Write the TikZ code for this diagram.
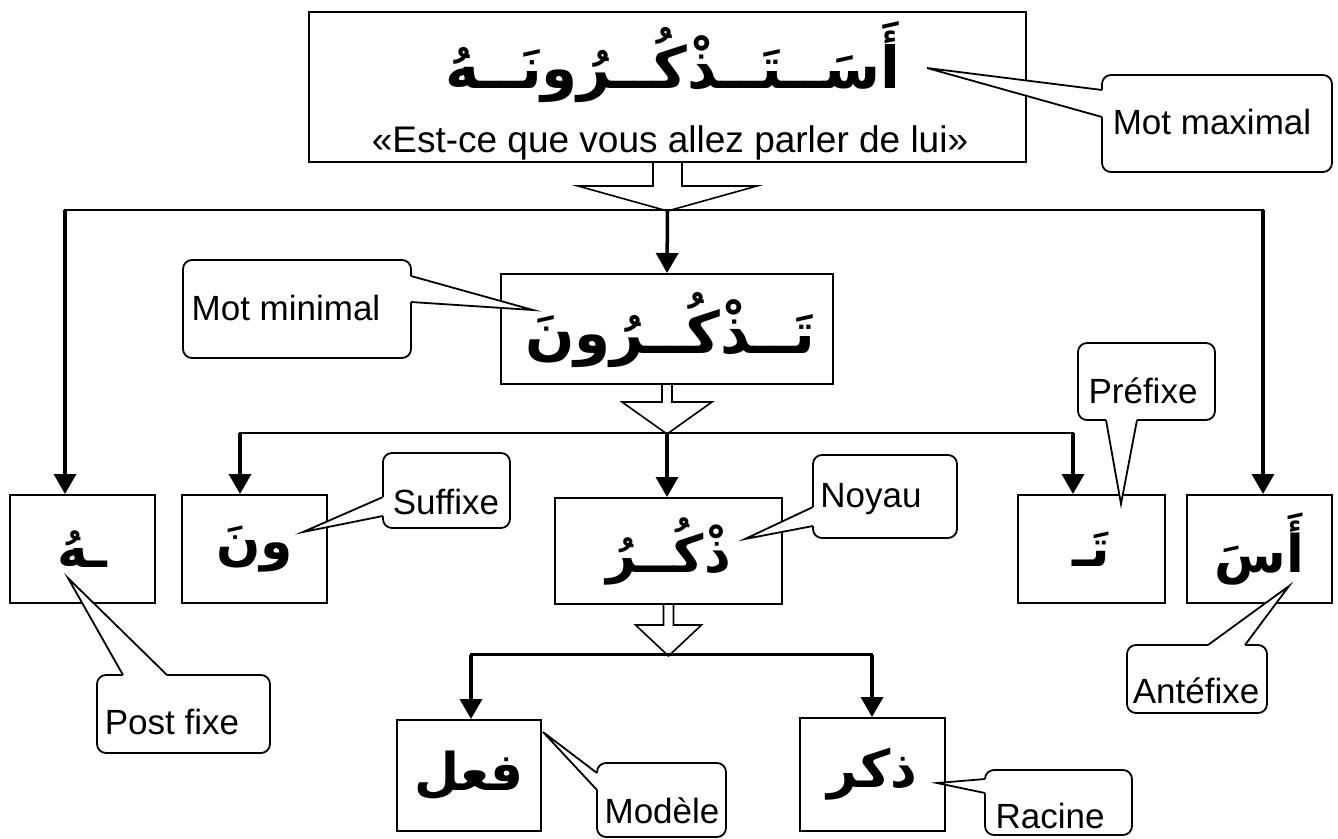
\documentclass[tikz,border=0pt]{standalone}
\usepackage{fontspec}
\setmainfont{Liberation Sans}
\newfontfamily\arabicfont[Script=Arabic]{DejaVu Sans}
\usetikzlibrary{arrows.meta,calc}
\TeXXeTstate=1
\newcommand\hollowarr[5]{%
  \draw[hollow] ($(#1)+(-#2,0)$) -- ($(#1)+(-#2,#4)$) -- ($(#1)+(-#3,#4)$) -- ($(#1)+(0,#4+#5)$)
     -- ($(#1)+(#3,#4)$) -- ($(#1)+(#2,#4)$) -- ($(#1)+(#2,0)$);}
\newcommand\calloutptr[4]{%
  \fill[white] #1 -- (#3) -- #2 -- ($#2+#4$) -- ($#1+#4$) -- cycle;
  \draw[ptr] #1 -- (#3) -- #2;}
\begin{document}
\begin{tikzpicture}[x=1pt,y=-1pt,
  box/.style={draw, line width=2pt, inner sep=0pt, fill=white},
  arr/.style={line width=3.5pt, -{Triangle[width=22pt,length=20pt]}},
  bus/.style={line width=2.5pt, line cap=rect},
  hollow/.style={draw, line width=1.6pt, fill=white, line join=miter},
  callout/.style={draw, line width=1.8pt, fill=white, rounded corners=9pt},
  ptr/.style={line width=1.8pt, line join=miter},
  ctext/.style={font=\fontsize{35}{40}\selectfont, inner sep=0pt},
  ar/.style={font=\arabicfont\bfseries\fontsize{58}{66}\selectfont, inner sep=0pt},
  ars/.style={font=\arabicfont\bfseries\fontsize{52}{60}\selectfont, inner sep=0pt},
]
\useasboundingbox (0,0) rectangle (1338,838);
\fill[white] (0,0) rectangle (1338,838);

% ---------- boxes ----------
\node[box, minimum width=717pt, minimum height=150pt] (top) at (667.5,87) {};
\node[ar] (topar) at (673,62) {\beginR أَسَــتَــذْكُــرُونَــهُ\endR};
\node[inner sep=0pt, anchor=base, font=\fontsize{37}{42}\selectfont] (topfr) at (670,152) {«Est-ce que vous allez parler de lui»};

\node[box, minimum width=332pt, minimum height=110pt] (mm) at (667,329) {};
\node[ar] (mmar) at (670,330) {\beginR تَــذْكُــرُونَ\endR};

\node[box, minimum width=145pt, minimum height=108pt, ars] (bh)  at (82.5,549)  {\beginR ـهُ\endR};
\node[box, minimum width=145pt, minimum height=108pt, ars] (bwn) at (254.5,549) {\beginR ونَ\endR};
\node[box, minimum width=227pt, minimum height=106pt, ars] (bn)  at (668.5,551) {\beginR ذْكُــرُ\endR};
\node[box, minimum width=147pt, minimum height=108pt, ars] (bt)  at (1091.5,549) {\beginR تَـ\endR};
\node[box, minimum width=145pt, minimum height=108pt, ars] (bas) at (1259.5,549) {\beginR أَسَ\endR};
\node[box, minimum width=144pt, minimum height=111pt, ars] (bf)  at (469,775.5) {\beginR فعل\endR};
\node[box, minimum width=145pt, minimum height=113pt, ars] (bdk) at (872.5,774.5) {\beginR ذكر\endR};

% ---------- hollow arrows ----------
\hollowarr{top.south}{14.5}{89.5}{23}{25}
\hollowarr{mm.south}{5}{45}{17}{32}
\hollowarr{bn.south}{5}{33}{20}{31}

% ---------- distribution lines ----------
\coordinate (jL) at (65,210);
\coordinate (jR) at (1263,210);
\coordinate (jC) at (667.5,210);
\draw[bus] (jL) -- (jR);
\draw[arr] (jL) -- (jL |- bh.north);
\draw[arr] (jR) -- (jR |- bas.north);
\draw[arr] (jC) -- (mm.north);

\coordinate (kL) at (240,433);
\coordinate (kR) at (1073,433);
\coordinate (kC) at (667,433);
\draw[bus] (kL) -- (kR);
\draw[arr] (kL) -- (kL |- bwn.north);
\draw[arr] (kC) -- (kC |- bn.north);
\draw[arr] (kR) -- (kR |- bt.north);

\coordinate (lL) at (471,654.5);
\coordinate (lR) at (872,654.5);
\coordinate (lC) at (668.5,654.5);
\draw[bus] (lL) -- (lR);
\draw[arr] (lL) -- (lL |- bf.north);
\draw[arr] (lR) -- (lR |- bdk.north);

% ---------- callouts ----------
\coordinate (tmax) at (927,68);
\draw[callout] (1102,75) rectangle (1332,172);
\calloutptr{(1102,90)}{(1102,117)}{tmax}{(5,0)}
\node[ctext] (tmaxt) at (1212,122) {Mot maximal};

\coordinate (tmin) at (533,310);
\draw[callout] (183,260) rectangle (411,358);
\calloutptr{(411,276)}{(411,302)}{tmin}{(-5,0)}
\node[ctext] (tmint) at (286,308) {Mot minimal};

\coordinate (tsuf) at (303,532);
\draw[callout] (383,453) rectangle (510,528);
\calloutptr{(383,497)}{(383,516)}{tsuf}{(5,0)}
\node[ctext] (tsuft) at (446,502) {Suffixe};

\coordinate (tnoy) at (745,539);
\draw[callout] (813,455) rectangle (957,538);
\calloutptr{(813,507)}{(813,526)}{tnoy}{(5,0)}
\node[ctext] (tnoyt) at (871,499) {Noyau};

\coordinate (tpre) at (1121,504);
\draw[callout] (1078,343) rectangle (1215,420);
\calloutptr{(1106,420)}{(1137,420)}{tpre}{(0,-5)}
\node[ctext] (tpret) at (1143,391) {Préfixe};

\coordinate (tant) at (1289,586);
\draw[callout] (1127,645) rectangle (1267,713);
\calloutptr{(1208,645)}{(1245,645)}{tant}{(0,5)}
\node[ctext] (tantt) at (1196,691) {Antéfixe};

\coordinate (tpost) at (68,578);
\draw[callout] (97,675) rectangle (270,753);
\calloutptr{(123,675)}{(167,675)}{tpost}{(0,5)}
\node[ctext] (tpostt) at (172,722) {Post fixe};

\coordinate (tmod) at (543,732);
\draw[callout] (597,763) rectangle (726,837);
\calloutptr{(597,773)}{(597,790)}{tmod}{(5,0)}
\node[ctext] (tmodt) at (662,811) {Modèle};

\coordinate (trac) at (937,783);
\draw[callout] (985,770) rectangle (1132,835);
\calloutptr{(985,779)}{(985,793)}{trac}{(5,0)}
\node[ctext] (tract) at (1050,816) {Racine};
\end{tikzpicture}
\end{document}
